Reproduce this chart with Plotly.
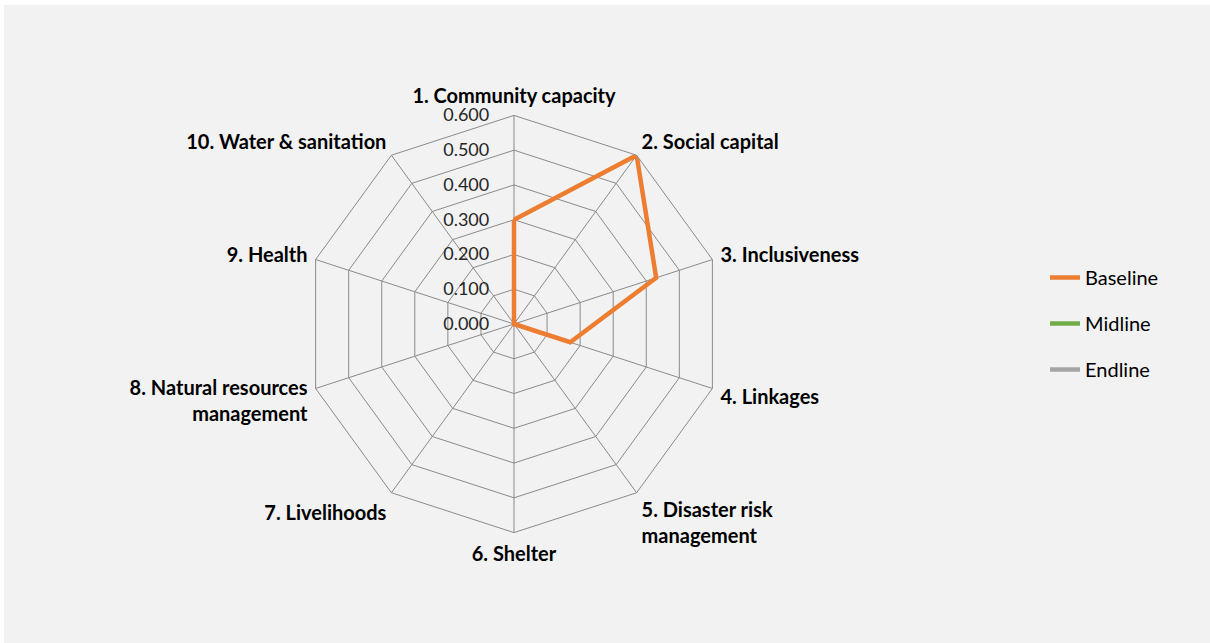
import plotly.graph_objects as go

categories = ["1. Community capacity", "2. Social capital", "3. Inclusiveness", "4. Linkages",
              "5. Disaster risk<br>management", "6. Shelter", "7. Livelihoods",
              "8. Natural resources<br>management", "9. Health", "10. Water & sanitation"]
baseline = [0.30, 0.60, 0.43, 0.17, 0.0, 0.0, 0.0, 0.0, 0.0, 0.0]
midline = [None] * 10
endline = [None] * 10

series = [("Baseline", baseline, "#ED7D31"), ("Midline", midline, "#70AD47"), ("Endline", endline, "#A5A5A5")]

fig = go.Figure()
for i, (name, vals, col) in enumerate(series):
    fig.add_trace(go.Scatterpolar(
        r=vals + [vals[0]], theta=categories + [categories[0]], mode="lines",
        name=name, line=dict(color=col, width=4.5), legendgroup=f"g{i}",
        connectgaps=False))

W, H = 1210, 643
cx, cy, R = 514, 324, 208.6
fig.update_layout(
    width=W, height=H, margin=dict(l=0, r=0, t=0, b=0),
    paper_bgcolor="white", plot_bgcolor="#f2f2f2",
    font=dict(family="Lato, Open Sans, sans-serif", color="#000000"),
    polar=dict(
        domain=dict(x=[(cx - R) / W, (cx + R) / W], y=[(H - cy - R) / H, (H - cy + R) / H]),
        bgcolor="rgba(0,0,0,0)", gridshape="linear",
        angularaxis=dict(direction="clockwise", rotation=90, linecolor="#8a8a8a", linewidth=1,
                         gridcolor="#8a8a8a", gridwidth=1, showline=True,
                         ticks="outside", ticklen=4, tickcolor="rgba(0,0,0,0)",
                         tickfont=dict(size=20, family="Lato", color="#000000", weight="bold")),
        radialaxis=dict(range=[0, 0.6], dtick=0.1, tickformat=".3f", angle=90, tickangle=90,
                        side="counterclockwise", showline=False, ticks="outside", ticklen=18,
                        tickcolor="rgba(0,0,0,0)",
                        gridcolor="#8a8a8a", gridwidth=1,
                        tickfont=dict(size=18, family="Lato", color="#262626")),
    ),
    legend=dict(x=1045 / W, y=1 - 258 / H, xanchor="left", yanchor="top",
                font=dict(size=20, family="Lato", color="#000000"), tracegroupgap=17,
                bgcolor="rgba(0,0,0,0)", itemwidth=30),
    shapes=[dict(type="rect", xref="paper", yref="paper", x0=4 / W, x1=1, y0=0, y1=1 - 5 / H,
                 fillcolor="#f2f2f2", line=dict(width=0), layer="below")],
)
fig.write_html("out.html")
